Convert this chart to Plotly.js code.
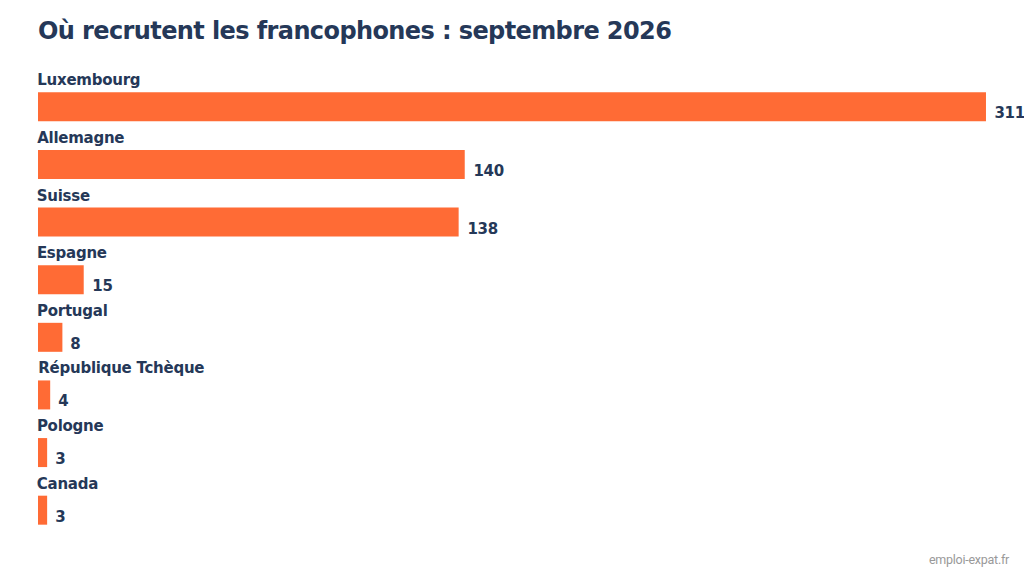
<!DOCTYPE html>
<html>
<head>
<meta charset="utf-8">
<script src="https://cdn.plot.ly/plotly-3.0.1.min.js"></script>
<style>
html,body{margin:0;padding:0;background:#fff}
#chart{width:1024px;height:576px}
#chart .gtitle{letter-spacing:-0.6px}
</style>
</head>
<body>
<div id="chart"></div>
<script>
const categories = ["Luxembourg", "Allemagne", "Suisse", "Espagne", "Portugal", "République Tchèque", "Pologne", "Canada"];
const values = [311, 140, 138, 15, 8, 4, 3, 3];
const titleText = "Où recrutent les francophones : septembre 2026";
const sourceText = "emploi-expat.fr";

const navy = "#253858";
const orange = "#FF6B35";
const font = "'DejaVu Sans', sans-serif";

const annotations = [];
categories.forEach((c, i) => {
  annotations.push({
    x: 0, y: c, xref: "x", yref: "y", xanchor: "left", yanchor: "middle",
    text: "<b>" + c + "</b>", showarrow: false, yshift: 26.5, xshift: -4.5,
    font: {family: font, size: 15, color: navy}
  });
  annotations.push({
    x: values[i], y: c, xref: "x", yref: "y", xanchor: "left", yanchor: "middle",
    text: "<b>" + values[i] + "</b>", showarrow: false, yshift: -6.5, xshift: 6,
    font: {family: font, size: 15, color: navy}
  });
});
annotations.push({
  x: 1, y: 0, xref: "paper", yref: "paper", xanchor: "right", yanchor: "middle",
  text: sourceText, showarrow: false, xshift: 14, yshift: -20,
  font: {family: "Roboto, sans-serif", size: 12.5, color: "#999999"}
});

const data = [{
  type: "bar", orientation: "h",
  x: values, y: categories,
  marker: {color: orange},
  hoverinfo: "none"
}];

const layout = {
  width: 1024, height: 576,
  margin: {l: 38, r: 24, t: 78, b: 37, autoexpand: false},
  paper_bgcolor: "#ffffff", plot_bgcolor: "#ffffff",
  showlegend: false,
  bargap: 0.497,
  title: {
    text: "<b>" + titleText + "</b>",
    xref: "container", yref: "container",
    x: 38 / 1024, xanchor: "left",
    y: 1 - 31 / 576, yanchor: "middle",
    automargin: false,
    font: {family: font, size: 24, color: navy}
  },
  xaxis: {range: [0, 315.6], showgrid: false, zeroline: false, showticklabels: false, showline: false, fixedrange: true, automargin: false},
  yaxis: {type: "category", range: [7.5, -0.5], autorange: false, showgrid: false, zeroline: false, showticklabels: false, showline: false, fixedrange: true, automargin: false},
  annotations: annotations
};

const style = document.createElement("style");
style.textContent = "#chart .annotation-text{letter-spacing:-0.25px}";
document.head.appendChild(style);

Plotly.newPlot("chart", data, layout, {displayModeBar: false, staticPlot: true});
</script>
</body>
</html>
